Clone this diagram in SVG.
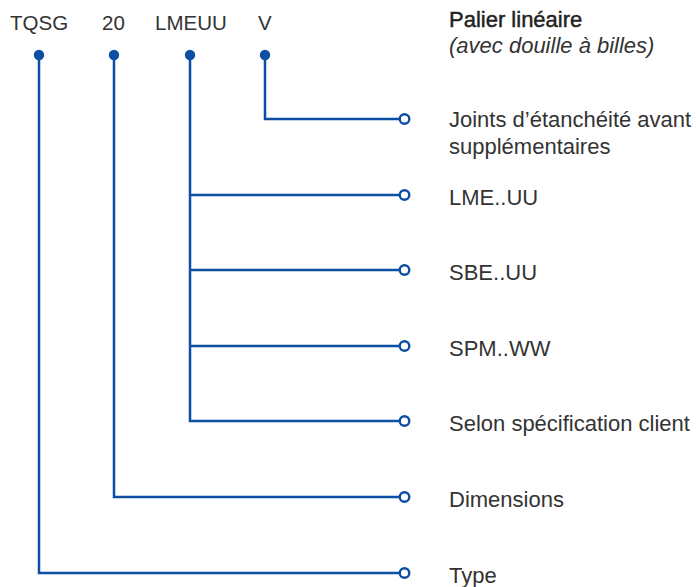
<svg xmlns="http://www.w3.org/2000/svg" width="696" height="587" viewBox="0 0 696 587">
<style>
.t{font-family:"Liberation Sans",Arial,sans-serif;font-size:22px;fill:#333}
.k{font-family:"Liberation Sans",Arial,sans-serif;font-size:20.5px;fill:#333}
.c{fill:none;stroke:#0B4EA2;stroke-width:2.5}
.o{fill:#fff;stroke:#0B4EA2;stroke-width:2.4}
.d{fill:#0B4EA2}
</style>
<rect width="696" height="587" fill="#fff"/>
<g id="codes">
<text class="k" x="10" y="30">TQSG</text>
<text class="k" x="102" y="30">20</text>
<text class="k" x="155" y="30">LMEUU</text>
<text class="k" x="258" y="30">V</text>
</g>
<g id="title">
<text class="t" x="449" y="27" style="fill:#222;stroke:#222;stroke-width:0.45">Palier linéaire</text>
<text class="t" x="449" y="53" style="font-style:italic">(avec douille à billes)</text>
</g>
<g id="connectors">
<path class="c" d="M39 55V573H399"/>
<path class="c" d="M114 55V497H399"/>
<path class="c" d="M190 55V421H399M190 195H399M190 270H399M190 346H399"/>
<path class="c" d="M265 55V119H399"/>
<circle class="d" cx="39" cy="55" r="5.2"/>
<circle class="d" cx="114" cy="55" r="5.2"/>
<circle class="d" cx="190" cy="55" r="5.2"/>
<circle class="d" cx="265" cy="55" r="5.2"/>
</g>
<g id="n-joints"><circle class="o" cx="404.5" cy="119" r="4.8"/><text class="t" x="449" y="127">Joints d’étanchéité avant</text><text class="t" x="449" y="154">supplémentaires</text></g>
<g id="n-lme"><circle class="o" cx="404.5" cy="195" r="4.8"/><text class="t" x="449" y="204.5">LME..UU</text></g>
<g id="n-sbe"><circle class="o" cx="404.5" cy="270" r="4.8"/><text class="t" x="449" y="279.5">SBE..UU</text></g>
<g id="n-spm"><circle class="o" cx="404.5" cy="346" r="4.8"/><text class="t" x="449" y="355.5">SPM..WW</text></g>
<g id="n-selon"><circle class="o" cx="404.5" cy="421" r="4.8"/><text class="t" x="449" y="430.5">Selon spécification client</text></g>
<g id="n-dim"><circle class="o" cx="404.5" cy="497" r="4.8"/><text class="t" x="449" y="506.5">Dimensions</text></g>
<g id="n-type"><circle class="o" cx="404.5" cy="573" r="4.8"/><text class="t" x="449" y="582.5">Type</text></g>
</svg>
